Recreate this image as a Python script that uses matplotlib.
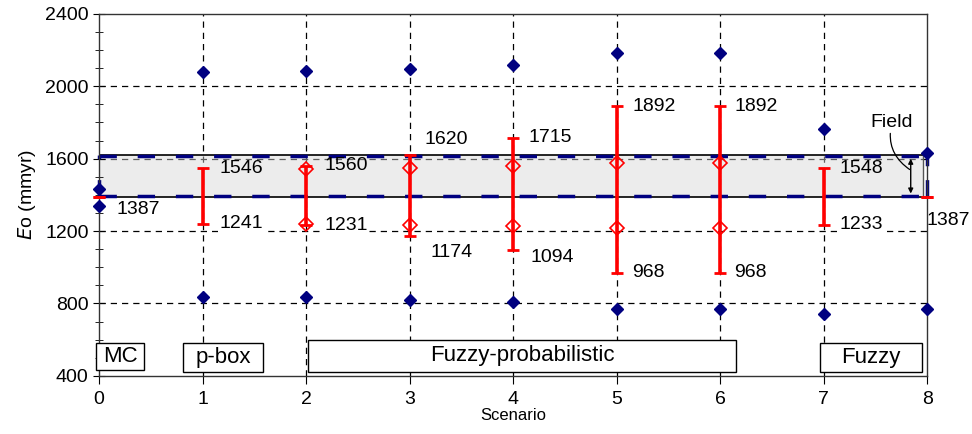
import matplotlib.pyplot as plt
import matplotlib.patches as mpatches
import numpy as np

plt.rcParams['font.family'] = ['Liberation Sans', 'DejaVu Sans']

scenarios = [0, 1, 2, 3, 4, 5, 6, 7, 8]
upper_pts = [1431, 2081, 2087, 2094, 2118, 2186, 2186, 1765, 1632]
lower_pts = [1341, 835, 833, 820, 807, 770, 770, 742, 770]

bar_lo = [1387, 1241, 1231, 1174, 1094, 968, 968, 1233, 1387]
bar_hi = [1387, 1546, 1560, 1620, 1715, 1892, 1892, 1548, 1387]

fuzzy_x = [2, 3, 4, 5, 6]
fuzzy_hi = [1542, 1547, 1560, 1577, 1577]
fuzzy_lo = [1240, 1234, 1229, 1216, 1216]

field_lo = 1387
field_hi = 1620

# label text, x (left edge), y (centre)
labels = [
    ("1387", 0.17, 1317), ("1546", 1.16, 1545), ("1241", 1.16, 1240),
    ("1560", 2.18, 1562), ("1231", 2.18, 1229), ("1620", 3.14, 1705),
    ("1174", 3.20, 1080), ("1715", 4.15, 1717), ("1094", 4.17, 1052),
    ("1892", 5.15, 1887), ("968", 5.15, 970), ("1892", 6.14, 1887),
    ("968", 6.13, 970), ("1548", 7.15, 1545), ("1233", 7.15, 1237),
    ("1387", 7.99, 1257),
]
masked = {"1241", "1231", "1233"}

groups = ["MC", "p-box", "Fuzzy-probabilistic", "Fuzzy"]
group_x0 = [-0.03, 0.81, 2.02, 6.96]
group_x1 = [0.435, 1.585, 6.15, 7.95]
group_y0 = [433, 422, 422, 422]
group_y1 = [582, 582, 599, 582]

fig = plt.figure(figsize=(9.72, 4.34), dpi=100)
ax = fig.add_axes([0.102, 0.134, 0.852, 0.834])
ax.set_xlim(0, 8)
ax.set_ylim(400, 2400)

# grid
for yv in [800, 1200, 1600, 2000]:
    ax.axhline(yv, color='black', lw=0.9, dashes=(5, 4), zorder=1)
for xv in range(1, 8):
    ax.axvline(xv, color='black', lw=0.9, dashes=(5, 4), zorder=1)

# field band
ax.fill_between([0, 7.96], field_lo, field_hi, color='#d6d6d6', alpha=0.45,
                lw=0, zorder=1.5)
ax.plot([0, 7.96], [field_hi, field_hi], color='black', lw=1.2, zorder=2)
ax.plot([0, 7.96], [field_lo, field_lo], color='black', lw=1.2, zorder=2)
ax.plot([7.96, 7.96], [field_lo, field_hi], color='#555555', lw=1.0, zorder=2)
ax.plot([0, 8], [field_hi - 8, field_hi - 8], color='#000080', lw=2.5,
        dashes=(5, 6), zorder=2.5)
ax.plot([0, 8], [field_lo + 5, field_lo + 5], color='#000080', lw=2.5,
        dashes=(5, 6), zorder=2.5)
ax.plot([0, 0], [field_lo, field_hi], color='#000080', lw=2.5,
        dashes=(5, 6), zorder=2.5, clip_on=False)
ax.plot([8, 8], [field_lo, upper_pts[-1]], color='#000080', lw=2.5,
        dashes=(5, 4), zorder=2.5, clip_on=False)

# red error bars
mid = [(a + b) / 2 for a, b in zip(bar_lo, bar_hi)]
yerr = [np.array(mid) - np.array(bar_lo), np.array(bar_hi) - np.array(mid)]
ax.errorbar(scenarios, mid, yerr=yerr, fmt='none', ecolor='red',
            elinewidth=2.6, capsize=4, capthick=2, zorder=4, clip_on=False)

# fuzzy diamonds
ax.plot(fuzzy_x, fuzzy_hi, 'D', mfc='none', mec='red', ms=7, mew=1.2, zorder=5)
ax.plot(fuzzy_x, fuzzy_lo, 'D', mfc='none', mec='red', ms=7, mew=1.2, zorder=5)

# blue diamonds
ax.plot(scenarios, upper_pts, 'D', color='#000080', ms=6, zorder=6, clip_on=False)
ax.plot(scenarios, lower_pts, 'D', color='#000080', ms=6, zorder=6, clip_on=False)

for txt, x, y in labels:
    bb = dict(facecolor='white', edgecolor='none', pad=0.5) if txt in masked else None
    ax.text(x, y, txt, fontsize=14, ha='left', va='center', zorder=7,
            bbox=bb, clip_on=False)

# field annotation
ax.annotate('', xy=(7.84, field_hi - 5), xytext=(7.84, field_lo + 5),
            arrowprops=dict(arrowstyle='<|-|>', color='black', lw=1.0,
                            mutation_scale=7), zorder=7)
ax.annotate('Field', xy=(7.83, 1540), xytext=(7.66, 1755), fontsize=14,
            ha='center', va='bottom', zorder=7,
            arrowprops=dict(arrowstyle='-', color='black', lw=0.9,
                            connectionstyle='arc3,rad=0.35', shrinkA=0,
                            shrinkB=0))

# group boxes
for name, x0, x1, y0, y1 in zip(groups, group_x0, group_x1, group_y0, group_y1):
    rect = mpatches.Rectangle((x0, y0), x1 - x0, y1 - y0, facecolor='white',
                              edgecolor='black', lw=1.0, zorder=8, clip_on=False)
    ax.add_patch(rect)
    ax.text((x0 + x1) / 2, (y0 + y1) / 2, name, fontsize=16, ha='center',
            va='center', zorder=9)

ax.set_xticks(scenarios)
ax.set_yticks([400, 800, 1200, 1600, 2000, 2400])
ax.set_yticks(np.arange(400, 2401, 100), minor=True)
ax.tick_params(axis='both', labelsize=14, colors='black')
ax.tick_params(axis='y', which='major', direction='inout', length=8)
ax.tick_params(axis='y', which='minor', direction='inout', length=6)
ax.tick_params(axis='x', which='major', direction='out', length=6, pad=5)
for s in ax.spines.values():
    s.set_linewidth(1.0)
    s.set_color('#333333')

ax.set_xlabel('Scenario', fontsize=12, labelpad=0)
ax.set_ylabel(r'$E$o (mmyr)', fontsize=14, labelpad=5)

fig.savefig('out.png', dpi=100)
